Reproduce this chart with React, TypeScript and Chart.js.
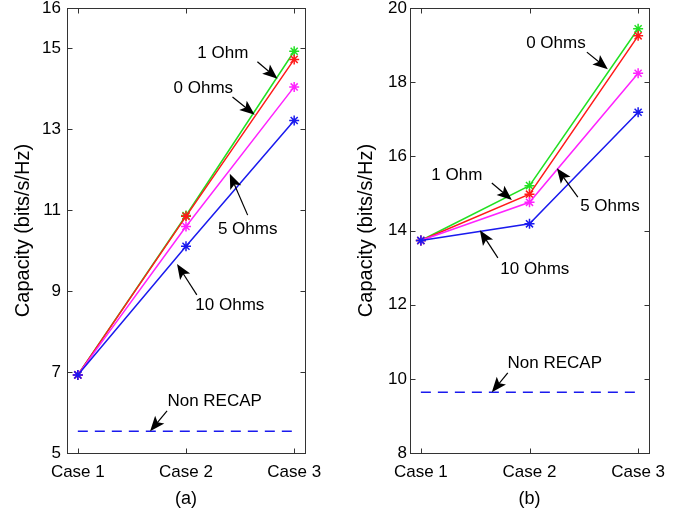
import React, { useEffect, useRef } from "react";
import { Chart, registerables } from "chart.js";

Chart.register(...registerables);

// ---------- data ----------
const caseLabels = ["Case 1", "Case 2", "Case 3"];
const casePositions = [1, 2, 3];

// Panel (a)
const aGreen = [6.93, 10.87, 14.93];
const aRed = [6.93, 10.85, 14.73];
const aMagenta = [6.93, 10.6, 14.05];
const aBlue = [6.93, 10.11, 13.22];
const aNonRecap = [5.54, 5.54, 5.54];
const aYTicks = [5, 7, 9, 11, 13, 15, 16];

// Panel (b)
const bGreen = [13.73, 15.21, 19.44];
const bRed = [13.73, 14.98, 19.25];
const bMagenta = [13.73, 14.76, 18.24];
const bBlue = [13.73, 14.18, 17.19];
const bNonRecap = [9.64, 9.64, 9.64];
const bYTicks = [8, 10, 12, 14, 16, 18, 20];

// Annotation texts and anchors (data coordinates)
const aNoteText = ["1 Ohm", "0 Ohms", "5 Ohms", "10 Ohms", "Non RECAP"];
const aNoteAt = [[2.34, 14.89], [2.16, 14.02], [2.57, 10.54], [2.405, 8.66], [2.265, 6.29]];
const aArrowFrom = [[2.66, 14.67], [2.43, 13.8], [2.57, 10.88], [2.1, 8.91], [1.825, 6.04]];
const aArrowTo = [[2.846, 14.25], [2.635, 13.36], [2.405, 11.9], [1.917, 9.67], [1.668, 5.54]];

const bNoteText = ["0 Ohms", "1 Ohm", "5 Ohms", "10 Ohms", "Non RECAP"];
const bNoteAt = [[2.243, 19.05], [1.331, 15.49], [2.74, 14.66], [2.049, 12.96], [2.233, 10.43]];
const bArrowFrom = [[2.528, 18.81], [1.653, 15.28], [2.445, 14.9], [1.709, 13.26], [1.8, 10.16]];
const bArrowTo = [[2.721, 18.35], [1.838, 14.82], [2.252, 15.68], [1.543, 14.01], [1.653, 9.64]];

// ---------- styles ----------
const FONT = "'Liberation Sans', Arial, Helvetica, sans-serif";
const GREEN = "#22e022";
const RED = "#ff1a1a";
const MAGENTA = "#ff22ff";
const BLUE = "#1a1aee";

function lineDs(values: number[], color: string) {
  return {
    data: casePositions.map((x, i) => ({ x, y: values[i] })),
    borderColor: color,
    backgroundColor: color,
    borderWidth: 1.5,
    pointStyle: "star",
    pointRadius: 5,
    pointBorderWidth: 1.5,
    pointBorderColor: color,
    pointBackgroundColor: color,
    fill: false,
    tension: 0,
  };
}

function dashDs(values: number[], color: string) {
  return {
    data: casePositions.map((x, i) => ({ x, y: values[i] })),
    borderColor: color,
    borderWidth: 1.5,
    borderDash: [10, 7],
    pointRadius: 0,
    fill: false,
    tension: 0,
  };
}

function drawArrow(ctx: CanvasRenderingContext2D, x0: number, y0: number, x1: number, y1: number) {
  const ang = Math.atan2(y1 - y0, x1 - x0);
  const c = Math.cos(ang), s = Math.sin(ang);
  const L = 15, W = 6;
  ctx.beginPath();
  ctx.moveTo(x0, y0);
  ctx.lineTo(x1 - L * 0.75 * c, y1 - L * 0.75 * s);
  ctx.stroke();
  const bx = x1 - L * c, by = y1 - L * s;
  const nx = -s, ny = c;
  ctx.beginPath();
  ctx.moveTo(x1, y1);
  ctx.lineTo(bx + W * nx, by + W * ny);
  ctx.lineTo(x1 - L * 0.78 * c, y1 - L * 0.78 * s);
  ctx.lineTo(bx - W * nx, by - W * ny);
  ctx.closePath();
  ctx.fill();
}

function makePlugins(texts: string[], at: number[][], from: number[][], to: number[][]) {
  return [
    {
      id: "frame",
      afterDraw(chart: any) {
        const { ctx, chartArea, scales } = chart;
        const { left, right, top, bottom } = chartArea;
        const x = scales.x, y = scales.y;
        ctx.save();
        ctx.strokeStyle = "#333";
        ctx.lineWidth = 1;
        const L = Math.round(left) + 0.5, R = Math.round(right) + 0.5;
        const T = Math.round(top) + 0.5, B = Math.round(bottom) + 0.5;
        ctx.strokeRect(L, T, R - L, B - T);
        const tl = 5;
        ctx.beginPath();
        y.ticks.forEach((t: any) => {
          const py = Math.round(y.getPixelForValue(t.value)) + 0.5;
          ctx.moveTo(L, py); ctx.lineTo(L + tl, py);
          ctx.moveTo(R, py); ctx.lineTo(R - tl, py);
        });
        x.ticks.forEach((t: any) => {
          const px = Math.round(x.getPixelForValue(t.value)) + 0.5;
          ctx.moveTo(px, B); ctx.lineTo(px, B - tl);
          ctx.moveTo(px, T); ctx.lineTo(px, T + tl);
        });
        ctx.stroke();
        ctx.restore();
      },
      afterDatasetsDraw(chart: any) {
        const { ctx, scales } = chart;
        const x = scales.x, y = scales.y;
        ctx.save();
        ctx.fillStyle = "#000";
        ctx.strokeStyle = "#000";
        ctx.lineWidth = 1.2;
        ctx.font = `17px ${FONT}`;
        ctx.textAlign = "center";
        ctx.textBaseline = "middle";
        texts.forEach((t, i) => {
          ctx.fillText(t, x.getPixelForValue(at[i][0]), y.getPixelForValue(at[i][1]));
          drawArrow(
            ctx,
            x.getPixelForValue(from[i][0]), y.getPixelForValue(from[i][1]),
            x.getPixelForValue(to[i][0]), y.getPixelForValue(to[i][1])
          );
        });
        ctx.restore();
      },
    },
  ];
}

function makeConfig(
  series: number[][],
  nonRecap: number[],
  yTicks: number[],
  title: string,
  yAxisWidth: number,
  padRight: number,
  yTickPad: number,
  yTitlePad: number,
  plugins: any[]
): any {
  return {
    type: "line",
    data: {
      datasets: [
        lineDs(series[3], BLUE),
        lineDs(series[2], MAGENTA),
        lineDs(series[1], RED),
        lineDs(series[0], GREEN),
        dashDs(nonRecap, BLUE),
      ],
    },
    options: {
      responsive: false,
      animation: false,
      events: [],
      layout: { padding: { left: 0, right: padRight, top: 8, bottom: 0 } },
      plugins: { legend: { display: false }, tooltip: { enabled: false } },
      scales: {
        x: {
          type: "linear",
          min: 0.9,
          max: 3.1,
          grid: { display: false, drawTicks: false },
          border: { display: false },
          afterBuildTicks: (s: any) => {
            s.ticks = casePositions.map((v) => ({ value: v }));
          },
          afterFit: (s: any) => {
            s.height = 59;
            s.paddingLeft = 0;
            s.paddingRight = 0;
          },
          ticks: {
            color: "#000",
            padding: 9,
            maxRotation: 0,
            autoSkip: false,
            font: { family: FONT, size: 17 },
            callback: (v: any) => caseLabels[casePositions.indexOf(v)] ?? "",
          },
          title: {
            display: true,
            text: title,
            color: "#000",
            font: { family: FONT, size: 18 },
            padding: { top: 0, bottom: 2 },
          },
        },
        y: {
          type: "linear",
          min: yTicks[0],
          max: yTicks[yTicks.length - 1],
          grid: { display: false, drawTicks: false },
          border: { display: false },
          afterBuildTicks: (s: any) => {
            s.ticks = yTicks.map((v) => ({ value: v }));
          },
          afterFit: (s: any) => {
            s.width = yAxisWidth;
            s.paddingTop = 0;
            s.paddingBottom = 0;
          },
          ticks: {
            color: "#000",
            padding: yTickPad,
            font: { family: FONT, size: 17 },
          },
          title: {
            display: true,
            text: "Capacity (bits/s/Hz)",
            color: "#000",
            font: { family: FONT, size: 20 },
            padding: yTitlePad,
          },
        },
      },
    },
    plugins,
  };
}

export default function App() {
  const aRef = useRef<HTMLCanvasElement>(null);
  const bRef = useRef<HTMLCanvasElement>(null);

  useEffect(() => {
    const ca = new Chart(
      aRef.current as HTMLCanvasElement,
      makeConfig(
        [aGreen, aRed, aMagenta, aBlue],
        aNonRecap,
        aYTicks,
        "(a)",
        67,
        40,
        6,
        11,
        makePlugins(aNoteText, aNoteAt, aArrowFrom, aArrowTo)
      )
    );
    const cb = new Chart(
      bRef.current as HTMLCanvasElement,
      makeConfig(
        [bGreen, bRed, bMagenta, bBlue],
        bNonRecap,
        bYTicks,
        "(b)",
        65,
        41,
        3,
        9,
        makePlugins(bNoteText, bNoteAt, bArrowFrom, bArrowTo)
      )
    );
    return () => {
      ca.destroy();
      cb.destroy();
    };
  }, []);

  return (
    <div style={{ position: "absolute", left: 0, top: 0, width: 690, height: 512, background: "#fff" }}>
      <canvas ref={aRef} width={345} height={512} style={{ position: "absolute", left: 0, top: 0 }} />
      <canvas ref={bRef} width={345} height={512} style={{ position: "absolute", left: 345, top: 0 }} />
    </div>
  );
}
